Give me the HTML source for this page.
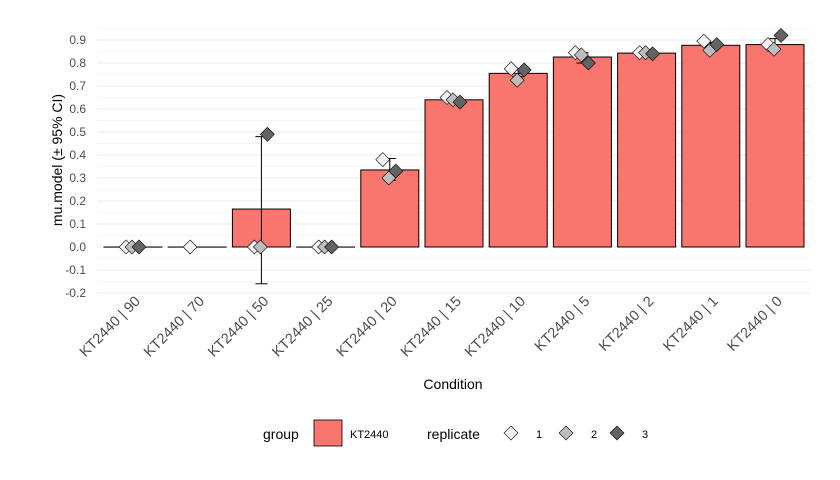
<!DOCTYPE html>
<html><head><meta charset="utf-8"><style>
body{margin:0;background:#fff}
svg{display:block;font-family:"Liberation Sans",Arial,sans-serif}
</style></head><body>
<svg id="chart" width="840" height="480" xmlns="http://www.w3.org/2000/svg">
<rect width="840" height="480" fill="#fff"/>
<g id="grid"></g><g id="bars"></g><g id="errs"></g><g id="pts"></g><g id="axes"></g>
<text x="453" y="389" font-size="14" text-anchor="middle" fill="#000">Condition</text>
<text transform="translate(62,160) rotate(-90)" font-size="14" text-anchor="middle" fill="#000">mu.model (± 95% CI)</text>
<g>
<text x="263" y="439" font-size="14">group</text>
<rect x="314" y="420" width="28" height="26" fill="#F8766D" stroke="#000" stroke-width="0.8"/>
<text x="350" y="438" font-size="11">KT2440</text>
<text x="427" y="439" font-size="14">replicate</text>
<g id="legpts"></g>
</g>
</svg>
<script>
const categories=["KT2440 | 90","KT2440 | 70","KT2440 | 50","KT2440 | 25","KT2440 | 20","KT2440 | 15","KT2440 | 10","KT2440 | 5","KT2440 | 2","KT2440 | 1","KT2440 | 0"];
const means=[0,0,0.165,0,0.335,0.64,0.755,0.826,0.843,0.877,0.88];
const ciLow=[0,0,-0.16,0,0.29,0.63,0.74,0.80,0.838,0.87,0.862];
const ciHigh=[0,0,0.48,0,0.385,0.65,0.77,0.845,0.848,0.89,0.906];
const rep1=[0,0,0,0,0.38,0.65,0.775,0.845,0.845,0.895,0.88];
const rep2=[0,null,0,0,0.30,0.64,0.725,0.835,0.845,0.855,0.86];
const rep3=[0,null,0.49,0,0.33,0.63,0.77,0.80,0.84,0.88,0.92];
const yTicks=[-0.2,-0.1,0.0,0.1,0.2,0.3,0.4,0.5,0.6,0.7,0.8,0.9];
const NS="http://www.w3.org/2000/svg";
const y=v=>247-v*230;
const x=i=>133+i*64.2;
const bw=58;
function mk(p,t,a){const e=document.createElementNS(NS,t);for(const k in a)e.setAttribute(k,a[k]);document.getElementById(p).appendChild(e);return e;}
for(let v=-0.2;v<=0.951;v+=0.05){
 const l=mk('grid','line',{x1:97,x2:810,y1:y(v),y2:y(v),stroke:'#ebebeb','stroke-width':Math.abs(Math.round(v*20))%2===0?1:0.6});
 
 
}
yTicks.forEach(t=>{
 const tx=mk('axes','text',{x:86,y:y(t)+4,'font-size':12,'text-anchor':'end',fill:'#4d4d4d'});
 tx.textContent=t.toFixed(1);
 
 
});
categories.forEach((c,i)=>{
 const cx=x(i);
 const tx=mk('axes','text',{transform:`translate(${cx+8},302) rotate(-45)`,'font-size':14.5,'text-anchor':'end',fill:'#4d4d4d'});
 tx.textContent=c;
 
 
 const h=Math.abs(y(means[i])-y(0));
 const r=mk('bars','rect',{x:cx-bw/2,y:Math.min(y(means[i]),y(0)),width:bw,height:Math.max(h,0.1),fill:'#F8766D',stroke:'#000','stroke-width':1});
 
 
 if(means[i]===0){const z=mk('bars','line',{x1:cx-bw/2,x2:cx+bw/2,y1:y(0),y2:y(0),stroke:'#000'});}
 const g=mk('errs','path',{d:`M${cx-6},${y(ciHigh[i])}H${cx+6}M${cx},${y(ciHigh[i])}V${y(ciLow[i])}M${cx-6},${y(ciLow[i])}H${cx+6}`,stroke:'#000',fill:'none','stroke-width':1});
 
 
 [[rep1,-7,'#f2f2f2'],[rep2,-1,'#bdbdbd'],[rep3,6,'#636363']].forEach(([arr,dx,col])=>{
  const v=arr[i]; if(v===null)return;
  const px=cx+dx,py=y(v),s=7;
  const d=mk('pts','path',{d:`M${px},${py-s}L${px+s},${py}L${px},${py+s}L${px-s},${py}Z`,fill:col,stroke:'#000','stroke-width':0.6});
  
  
 });
});
[['1',511,'#f2f2f2'],['2',566,'#bdbdbd'],['3',617,'#636363']].forEach(([lab,lx,col])=>{
 const d=mk('legpts','path',{d:`M${lx},${426}L${lx+7},${433}L${lx},${440}L${lx-7},${433}Z`,fill:col,stroke:'#000','stroke-width':0.6});
 
 
 const t=mk('legpts','text',{x:lx+25,y:438,'font-size':11});
 t.textContent=lab;
 
 
});
</script>
</body></html>
